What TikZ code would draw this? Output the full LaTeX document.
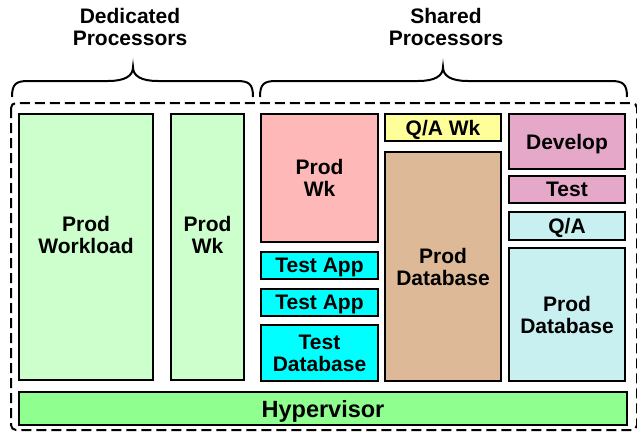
\documentclass[tikz,border=0pt]{standalone}
\usepackage{fontspec}
\setmainfont{Liberation Sans}
\begin{document}
\begin{tikzpicture}[x=1pt,y=-1pt,
  box/.style={draw=black, line width=2.4pt, inner sep=0pt, align=center, text depth=0pt,
    font=\fontsize{21}{22}\selectfont\bfseries},
  lbl/.style={inner sep=0pt, align=center, font=\fontsize{21}{22}\selectfont\bfseries},
  bracepath/.style={draw=black, line width=2pt},
]
\definecolor{lgreen}{RGB}{204,255,204}
\definecolor{hgreen}{RGB}{143,255,143}
\definecolor{lpink}{RGB}{255,184,184}
\definecolor{lyellow}{RGB}{255,255,153}
\definecolor{tan}{RGB}{222,185,152}
\definecolor{mauve}{RGB}{230,168,200}
\definecolor{lcyan}{RGB}{200,240,240}
\definecolor{cyanb}{RGB}{0,255,255}
\useasboundingbox (0,0) rectangle (637,431);
\begin{scope}
\clip (0,0) rectangle (637,431);
% dashed frame
\draw[line width=2pt, dash pattern=on 10pt off 5pt, rounded corners=5pt] (11,103) rectangle (637,430);
% titles
\node[lbl] (tded) at (130,27) {Dedicated\\Processors};
\node[lbl] (tsh) at (446,27) {Shared\\Processors};
% braces
\coordinate (b1l) at (12,97); \coordinate (b1t) at (133,67); \coordinate (b1r) at (253,97);
\draw[bracepath] (b1l) .. controls (12,84) and (16,81) .. (28,81) -- (108,81)
  .. controls (125,81) and (133,76) .. (b1t) .. controls (133,76) and (141,81) .. (158,81)
  -- (237,81) .. controls (249,81) and (253,84) .. (b1r);
\coordinate (b2l) at (260,97); \coordinate (b2t) at (443,67); \coordinate (b2r) at (627,97);
\draw[bracepath] (b2l) .. controls (260,84) and (264,81) .. (276,81) -- (418,81)
  .. controls (435,81) and (443,76) .. (b2t) .. controls (443,76) and (451,81) .. (468,81)
  -- (611,81) .. controls (623,81) and (627,84) .. (b2r);
% dedicated
\node[box, fill=lgreen, minimum width=133.6pt, minimum height=265.6pt] (pwl) at (86,247) {};
\node[lbl] (pwlt) at (86,235) {Prod\\Workload};
\node[box, fill=lgreen, minimum width=72.6pt, minimum height=265.6pt] (pwk) at (207.5,247) {};
\node[lbl] (pwkt) at (207.5,235) {Prod\\Wk};
% hypervisor
\node[box, fill=hgreen, minimum width=607.6pt, minimum height=32.6pt,
  font=\fontsize{23.5}{26}\selectfont\bfseries] (hyp) at (323,408.5) {Hypervisor};
% shared col 1
\node[box, fill=lpink, minimum width=116.6pt, minimum height=127.6pt] (pwkp) at (319.5,178) {Prod\\Wk};
\node[box, fill=cyanb, minimum width=116.6pt, minimum height=26.6pt] (ta1) at (319.5,265.5) {Test App};
\node[box, fill=cyanb, minimum width=116.6pt, minimum height=26.6pt] (ta2) at (319.5,302.5) {Test App};
\node[box, fill=cyanb, minimum width=116.6pt, minimum height=55.6pt] (tdb) at (319.5,353) {Test\\Database};
% shared col 2
\node[box, fill=lyellow, minimum width=115.6pt, minimum height=26.6pt] (qawk) at (443,127.5) {Q/A Wk};
\node[box, fill=tan, minimum width=115.6pt, minimum height=228.6pt] (pdb) at (443,266.5) {Prod\\Database};
% shared col 3
\node[box, fill=mauve, minimum width=115.6pt, minimum height=54.6pt] (dev) at (567,141.5) {Develop};
\node[box, fill=mauve, minimum width=115.6pt, minimum height=26.6pt] (tst) at (567,189.5) {Test};
\node[box, fill=lcyan, minimum width=115.6pt, minimum height=27.6pt] (qa) at (567,226) {Q/A};
\node[box, fill=lcyan, minimum width=115.6pt, minimum height=132.6pt] (pdb2) at (567,314.5) {Prod\\Database};
\end{scope}
\end{tikzpicture}
\end{document}
